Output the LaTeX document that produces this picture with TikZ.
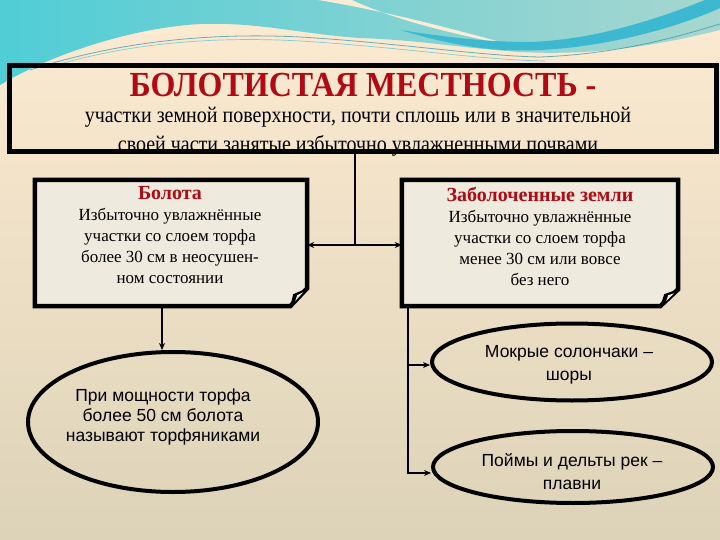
\documentclass[tikz,border=0pt]{standalone}
\usepackage{fontspec}
\setmainfont{Liberation Serif}
\newfontfamily\arialf{Liberation Sans}
\usetikzlibrary{shapes.geometric,arrows.meta,calc}
\definecolor{bgtop}{RGB}{252,235,210}
\definecolor{bgmid}{RGB}{243,233,213}
\definecolor{bgbot}{RGB}{221,211,184}
\definecolor{boxfill}{RGB}{238,234,222}
\definecolor{dred}{RGB}{178,10,20}
\definecolor{cyanL}{RGB}{80,205,214}
\definecolor{tealG}{RGB}{133,190,196}
\definecolor{paleT}{RGB}{168,214,208}
\definecolor{cyanB}{RGB}{60,184,208}
\definecolor{creamS}{RGB}{250,236,214}
\tikzset{
  boxline/.style={line width=4.5pt, draw=black, line join=miter},
  conn/.style={line width=1.3pt, draw=black},
  arr/.style={conn, -{Stealth[length=7pt,width=6pt]}},
  oval/.style={ellipse, draw=black, line width=4pt, inner sep=0pt},
  serifbody/.style={align=center, font=\fontsize{17}{21}\selectfont, inner sep=0pt},
  sansbody/.style={align=center, font=\arialf\fontsize{17.5}{22}\selectfont, inner sep=0pt},
  blank/.style={draw=none, fill=none, inner sep=0pt},
}
\newcommand{\boxhead}[1]{{\fontsize{20}{21}\selectfont\bfseries\color{dred}#1}}
\begin{document}
\begin{tikzpicture}[x=1pt,y=-1pt]
\useasboundingbox (0,0) rectangle (720,540);
% background
\shade[top color=bgtop, middle color=bgmid, bottom color=bgbot] (0,0) rectangle (720,540);
% waves
\shade[left color=cyanL, middle color=tealG, right color=paleT]
  (0,0) -- (720,0) -- (720,30) .. controls (640,50) and (580,55) .. (520,52)
  .. controls (460,48) and (420,40) .. (360,38) .. controls (300,34) and (260,22) .. (200,24)
  .. controls (130,28) and (50,55) .. (0,85) -- cycle;
\fill[creamS] (318,0) .. controls (380,10) and (450,28) .. (515,46)
  .. controls (450,34) and (390,18) .. (352,0) -- cycle;
\fill[cyanB] (400,30) .. controls (460,48) and (500,52) .. (540,50)
  .. controls (620,46) and (690,22) .. (720,8) -- (720,0) -- (705,0)
  .. controls (650,22) and (590,40) .. (530,42) .. controls (480,42) and (440,36) .. (400,30) -- cycle;
\draw[cyanB!80!black, line width=0.8pt, opacity=0.7] (30,70) .. controls (110,44) and (200,32) .. (300,37)
  .. controls (400,43) and (480,56) .. (540,57) .. controls (620,54) and (680,36) .. (720,24);
\draw[cyanB, line width=0.7pt, opacity=0.6] (60,64) .. controls (130,44) and (210,36) .. (300,41)
  .. controls (400,47) and (480,60) .. (545,61);

% top box
\node[blank, minimum width=706pt, minimum height=85pt] (top) at (363,108.5) {};
\node[inner sep=0pt, text=dred, font=\fontsize{32}{36}\selectfont\bfseries] (title) at (363,85) {\scalebox{1}[1.1]{БОЛОТИСТАЯ МЕСТНОСТЬ -}};
\node[inner sep=0pt, font=\fontsize{20}{25}\selectfont] (def) at (358,131) {\scalebox{1}[1.12]{\begin{tabular}{@{}c@{}}участки земной поверхности, почти сплошь или в значительной\\[1pt]своей части занятые избыточно увлажненными почвами\end{tabular}}};
\draw[line width=5pt] (top.north west) rectangle (top.south east);

% left box (Болота)
\node[blank, minimum width=272pt, minimum height=126pt] (bolota) at (171,243) {};
\filldraw[boxline, fill=boxfill] (bolota.north west) -- (bolota.north east) -- ([yshift=18pt]bolota.south east)
  -- ([xshift=-17pt]bolota.south east) -- (bolota.south west) -- cycle;
\fill[black] ([xshift=-17pt]bolota.south east) -- ([xshift=-14pt,yshift=12pt]bolota.south east) -- ([yshift=18pt]bolota.south east) -- cycle;
\fill[boxfill!70!white] ([xshift=-12pt,yshift=5pt]bolota.south east) -- ([xshift=-10pt,yshift=11pt]bolota.south east) -- ([xshift=-4pt,yshift=14pt]bolota.south east) -- cycle;
\node[serifbody] (boltext) at (170,235.5) {\boxhead{Болота}\\Избыточно увлажнённые\\участки со слоем торфа\\более 30 см в неосушен-\\ном состоянии};

% right box (Заболоченные земли)
\node[blank, minimum width=276pt, minimum height=126pt] (zem) at (540,243) {};
\filldraw[boxline, fill=boxfill] (zem.north west) -- (zem.north east) -- ([yshift=17pt]zem.south east)
  -- ([xshift=-18pt]zem.south east) -- (zem.south west) -- cycle;
\fill[black] ([xshift=-18pt]zem.south east) -- ([xshift=-14pt,yshift=12pt]zem.south east) -- ([yshift=17pt]zem.south east) -- cycle;
\fill[boxfill!70!white] ([xshift=-12pt,yshift=5pt]zem.south east) -- ([xshift=-10pt,yshift=11pt]zem.south east) -- ([xshift=-4pt,yshift=13pt]zem.south east) -- cycle;
\node[serifbody] (zemtext) at (540,236.5) {\boxhead{Заболоченные земли}\\Избыточно увлажнённые\\участки со слоем торфа\\менее 30 см или вовсе\\без него};

% ellipses
\node[oval, minimum width=290pt, minimum height=140pt] (peat) at (173,422) {};
\node[sansbody, font=\arialf\fontsize{17.5}{20}\selectfont] (peattext) at (163,417) {При мощности торфа\\более 50 см болота\\называют торфяниками};
\node[oval, minimum width=280pt, minimum height=77pt] (sol) at (572,362) {};
\node[sansbody, font=\arialf\fontsize{17.5}{23}\selectfont] (soltext) at (569,365) {Мокрые солончаки –\\шоры};
\node[oval, minimum width=280pt, minimum height=72pt] (plav) at (573,467) {};
\node[sansbody, font=\arialf\fontsize{17.5}{23}\selectfont] (plavtext) at (572,472) {Поймы и дельты рек –\\плавни};

% connectors
\coordinate (j) at (355,245);
\draw[conn] (top.south -| j) -- (j);
\draw[arr] (j) -- (bolota.east |- j);
\draw[arr] (j) -- (zem.west |- j);
\coordinate (lv) at (162,0);
\draw[arr] (bolota.south -| lv) -- (peat.north -| lv);
\coordinate (rv) at (408,0);
\draw[arr] (zem.south -| rv) |- ([yshift=-3pt]sol.west);
\draw[arr] (zem.south -| rv) |- ([yshift=-6pt]plav.west);
\end{tikzpicture}
\end{document}
